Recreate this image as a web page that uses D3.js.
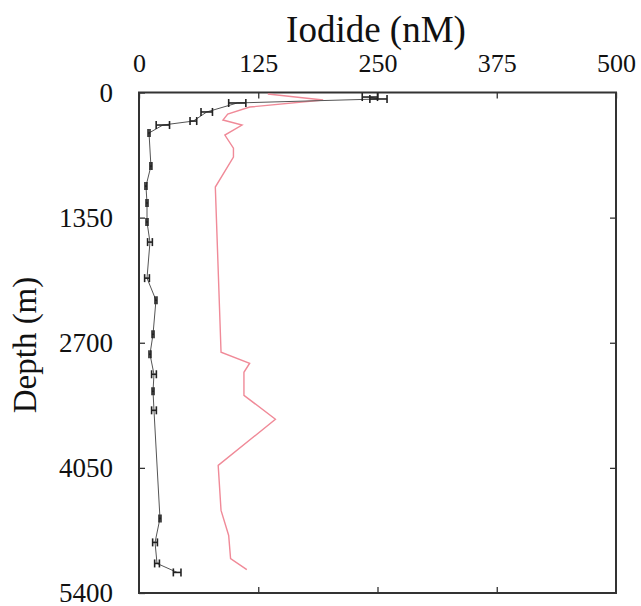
<!DOCTYPE html>
<html>
<head>
<meta charset="utf-8">
<script src="https://cdn.jsdelivr.net/npm/d3@7"></script>
<style>
  body { margin: 0; background: #fff; }
  text { font-family: "Liberation Serif", "DejaVu Serif", serif; fill: #111; }
</style>
</head>
<body>
<div class="chart"></div>
<script>
var svgWidth = 641;
var svgHeight = 606;

var margin = { top: 92.5, right: 25, bottom: 13, left: 139 };
var width = svgWidth - margin.left - margin.right;
var height = svgHeight - margin.top - margin.bottom;

// tick labels
var xTicks = [0, 125, 250, 375, 500];
var yTicks = [0, 1350, 2700, 4050, 5400];

// measured iodide (black, with error bars)
var iodideDepth = [49, 70, 113, 210, 308, 351, 437, 794, 1010, 1193, 1398, 1614, 2003, 2241, 2608, 2824, 3040, 3224, 3429, 4595, 4854, 5081, 5178];
var iodideValue = [242, 251, 103, 71, 57, 25, 10.5, 12.5, 7.3, 8.4, 8.4, 11.5, 8.4, 17.8, 14.7, 11.5, 15.7, 14.7, 15.7, 22, 16.8, 18.9, 40];
var iodideErr = [8, 9, 9, 6, 3.5, 7, 1, 1, 1, 1, 1, 2.5, 2.5, 1, 1, 1, 2.5, 1, 2.5, 1, 2.5, 2.5, 4];

// second profile (red line)
var redDepth = [16, 81, 157, 232, 297, 351, 459, 600, 697, 1020, 2802, 2921, 3019, 3267, 3526, 4023, 4509, 4779, 5028, 5147];
var redValue = [135, 193, 116, 93, 88, 108, 90, 99, 99, 80, 86, 116, 110, 110, 143, 83, 86, 94, 96, 113];

var svg = d3.select(".chart")
  .append("svg")
  .attr("width", svgWidth)
  .attr("height", svgHeight);

var chartGroup = svg.append("g")
  .attr("transform", `translate(${margin.left}, ${margin.top})`);

var xScale = d3.scaleLinear().domain([0, 500]).range([0, width]);
var yScale = d3.scaleLinear().domain([0, 5400]).range([0, height]);

// top axis with labels, ticks pointing inward
var topAxis = d3.axisTop(xScale).tickValues(xTicks).tickSizeInner(-6).tickSizeOuter(0)
  .tickPadding(21).tickFormat(d3.format("d"));
var gTop = chartGroup.append("g").call(topAxis);
gTop.select(".domain").remove();
gTop.selectAll("text").attr("font-size", "26px");

var leftAxis = d3.axisLeft(yScale).tickValues(yTicks).tickSizeInner(-6).tickSizeOuter(0)
  .tickPadding(26).tickFormat(d3.format("d"));
var gLeft = chartGroup.append("g").call(leftAxis);
gLeft.select(".domain").remove();
gLeft.selectAll("text").attr("font-size", "27px");

// mirrored inner ticks, no labels
var gBottom = chartGroup.append("g")
  .attr("transform", `translate(0, ${height})`)
  .call(d3.axisBottom(xScale).tickValues(xTicks.slice(1, -1)).tickSizeInner(-6).tickSizeOuter(0).tickFormat(""));
gBottom.select(".domain").remove();

var gRight = chartGroup.append("g")
  .attr("transform", `translate(${width}, 0)`)
  .call(d3.axisRight(yScale).tickValues(yTicks.slice(1, -1)).tickSizeInner(-6).tickSizeOuter(0).tickFormat(""));
gRight.select(".domain").remove();

chartGroup.selectAll(".tick line").attr("stroke", "#333").attr("stroke-width", 1.3);

// frame
chartGroup.append("rect")
  .attr("width", width)
  .attr("height", height)
  .attr("fill", "none")
  .attr("stroke", "#333")
  .attr("stroke-width", 2);

// red profile
var redData = redDepth.map((d, i) => ({ depth: d, value: redValue[i] }));
var line = d3.line().x(d => xScale(d.value)).y(d => yScale(d.depth));

chartGroup.append("path")
  .datum(redData)
  .attr("d", line)
  .attr("fill", "none")
  .attr("stroke", "#f08a98")
  .attr("stroke-width", 1.4);

// black profile
var iodideData = iodideDepth.map((d, i) => ({ depth: d, value: iodideValue[i], err: iodideErr[i] }));

chartGroup.append("path")
  .datum(iodideData)
  .attr("d", line)
  .attr("fill", "none")
  .attr("stroke", "#555")
  .attr("stroke-width", 1);

var bars = chartGroup.selectAll(".errbar")
  .data(iodideData)
  .enter()
  .append("g")
  .attr("class", "errbar")
  .attr("stroke", "#222")
  .attr("stroke-width", 1.6);

bars.append("line")
  .attr("x1", d => xScale(d.value - d.err))
  .attr("x2", d => xScale(d.value + d.err))
  .attr("y1", d => yScale(d.depth))
  .attr("y2", d => yScale(d.depth));

bars.append("line")
  .attr("x1", d => xScale(d.value - d.err))
  .attr("x2", d => xScale(d.value - d.err))
  .attr("y1", d => yScale(d.depth) - 4)
  .attr("y2", d => yScale(d.depth) + 4);

bars.append("line")
  .attr("x1", d => xScale(d.value + d.err))
  .attr("x2", d => xScale(d.value + d.err))
  .attr("y1", d => yScale(d.depth) - 4)
  .attr("y2", d => yScale(d.depth) + 4);

// axis titles
svg.append("text")
  .attr("x", 376)
  .attr("y", 42)
  .attr("text-anchor", "middle")
  .attr("font-size", "37px")
  .text("Iodide (nM)");

svg.append("text")
  .attr("transform", `translate(36, 345) rotate(-90)`)
  .attr("text-anchor", "middle")
  .attr("font-size", "33px")
  .text("Depth (m)");
</script>
</body>
</html>
